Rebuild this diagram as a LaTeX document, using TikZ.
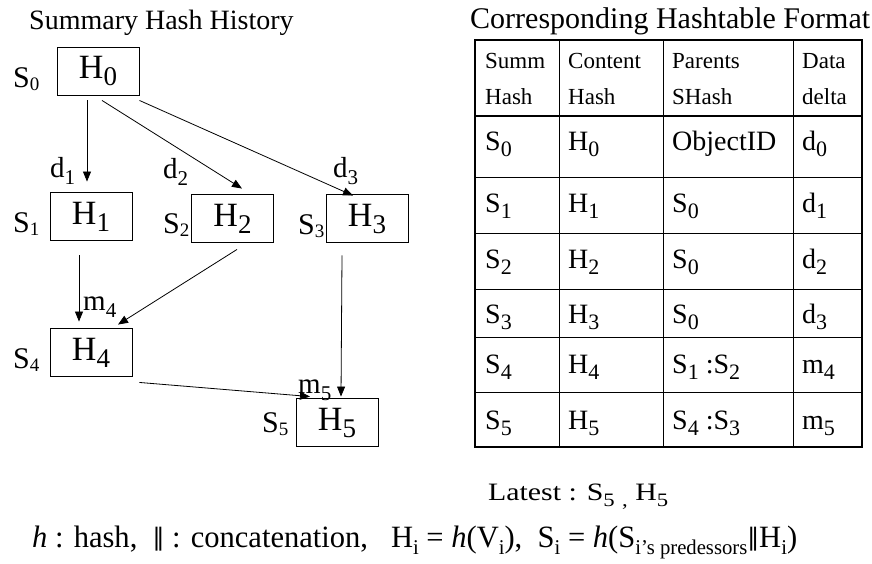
\documentclass[tikz,border=0pt]{standalone}
\usepackage{fontspec}
\setmainfont{Liberation Serif}
\newfontfamily\dvs{DejaVu Sans}
\usetikzlibrary{arrows.meta,calc}

% font size helper and lowered subscripts: text, drop, size
\newcommand\fs[1]{\rmfamily\fontsize{#1}{#1}\selectfont}
\newcommand\lsub[3]{\raisebox{-#2pt}{\fs{#3}#1}}
\newcommand\bx[2]{#1\lsub{#2}{7}{27}}   % inside hash boxes
\newcommand\lb[2]{#1\lsub{#2}{3}{19}}   % S labels beside boxes
\newcommand\dl[2]{#1\lsub{#2}{7}{21}}   % delta / merge labels
\newcommand\tc[2]{#1\lsub{#2}{6}{22}}   % table cells
\newcommand\dbar{{\dvs\fontsize{24}{24}\selectfont\raisebox{2pt}{‖}}}

\tikzset{
  hbox/.style={draw, line width=0.9pt, minimum width=82pt, minimum height=48pt,
    inner sep=0pt, font=\fs{34}},
  lab/.style={anchor=base west, inner sep=0pt},
  slab/.style={lab, font=\fs{30}},
  dlab/.style={lab, font=\fs{29}},
  arr/.style={line width=0.8pt, -{Triangle[length=10pt,width=8pt]}},
  cell/.style={lab, font=\fs{28}},
  head/.style={lab, font=\fs{23}},
  thin/.style={line width=0.9pt},
  thick/.style={line width=2.6pt},
}

\begin{document}
\begin{tikzpicture}[x=1pt,y=-1pt]
\useasboundingbox (0,0) rectangle (872,563);

% ---- summary hash history ----
\node[lab, font=\fs{28}] (t1) at (29,29) {Summary Hash History};

\node[hbox] (H0) at (98,71)    {\bx{H}{0}};
\node[hbox] (H1) at (91,216.5) {\bx{H}{1}};
\node[hbox] (H2) at (232.5,218.5) {\bx{H}{2}};
\node[hbox] (H3) at (367,218.5) {\bx{H}{3}};
\node[hbox] (H4) at (91,352.5) {\bx{H}{4}};
\node[hbox] (H5) at (337,422.5) {\bx{H}{5}};

\node[slab] (S0) at (13,87)  {\lb{S}{0}};
\node[slab] (S1) at (13,232) {\lb{S}{1}};
\node[slab] (S2) at (163,233) {\lb{S}{2}};
\node[slab] (S3) at (298,234) {\lb{S}{3}};
\node[slab] (S4) at (13,368) {\lb{S}{4}};
\node[slab] (S5) at (262,432) {\lb{S}{5}};

\node[dlab] (d1) at (50,177)  {\dl{d}{1}};
\node[dlab] (d2) at (163,178) {\dl{d}{2}};
\node[dlab] (d3) at (333,177) {\dl{d}{3}};
\node[dlab] (m4) at (83,310)  {\dl{m}{4}};
\node[dlab] (m5) at (298,393) {\dl{m}{5}};

\draw[arr] ($(H0.south)+(-11,5)$) -- ($(H1.north)+(-4,-10.5)$);
\draw[arr] ($(H0.south)+(4,5)$)   -- ($(H2.north)+(9.5,-5.5)$);
\draw[arr] ($(H0.south east)+(0,5)$) -- ($(H3.north)+(-14,1.5)$);
\draw[arr] ($(H1.south)+(-12,14.5)$) -- ($(H4.north)+(-12,-6.5)$);
\draw[arr] ($(H2.south)+(4.5,6.5)$) -- ($(H4.north)+(27,-3.5)$);
\draw[arr] ($(H3.south)+(-25,12.5)$) -- ($(H5.north)+(4,-1.5)$);
\draw[arr] ($(H4.south east)+(7,5.5)$) -- ($(H5.north)+(-27,-1.5)$);

% ---- corresponding hashtable ----
\node[lab, font=\fs{30}] (t2) at (470,28) {Corresponding Hashtable Format};

\foreach \yy in {177,233,289,337,392} \draw[thin] (475,\yy) -- (862,\yy);
\foreach \xx in {559,663,793} \draw[thin] (\xx,40) -- (\xx,447);
\draw[line width=2pt] (475,116) -- (862,116);
\draw[thick] (475,40) rectangle (862,447);

\node[head] (h1a) at (485,68)  {Summ};
\node[head] (h1b) at (485,104) {Hash};
\node[head] (h2a) at (568,68)  {Content};
\node[head] (h2b) at (568,104) {Hash};
\node[head] (h3a) at (672,68)  {Parents};
\node[head] (h3b) at (672,104) {SHash};
\node[head] (h4a) at (802,68)  {Data};
\node[head] (h4b) at (802,104) {delta};

\node[cell] (r0a) at (485,150) {\tc{S}{0}};
\node[cell] (r0b) at (568,150) {\tc{H}{0}};
\node[cell] (r0c) at (672,150) {ObjectID};
\node[cell] (r0d) at (802,150) {\tc{d}{0}};

\node[cell] (r1a) at (485,212) {\tc{S}{1}};
\node[cell] (r1b) at (568,212) {\tc{H}{1}};
\node[cell] (r1c) at (672,212) {\tc{S}{0}};
\node[cell] (r1d) at (802,212) {\tc{d}{1}};

\node[cell] (r2a) at (485,268) {\tc{S}{2}};
\node[cell] (r2b) at (568,268) {\tc{H}{2}};
\node[cell] (r2c) at (672,268) {\tc{S}{0}};
\node[cell] (r2d) at (802,268) {\tc{d}{2}};

\node[cell] (r3a) at (485,323) {\tc{S}{3}};
\node[cell] (r3b) at (568,323) {\tc{H}{3}};
\node[cell] (r3c) at (672,323) {\tc{S}{0}};
\node[cell] (r3d) at (802,323) {\tc{d}{3}};

\node[cell] (r4a) at (485,373) {\tc{S}{4}};
\node[cell] (r4b) at (568,373) {\tc{H}{4}};
\node[cell] (r4c) at (672,373) {\tc{S}{1} :\tc{S}{2}};
\node[cell] (r4d) at (802,373) {\tc{m}{4}};

\node[cell] (r5a) at (485,429) {\tc{S}{5}};
\node[cell] (r5b) at (568,429) {\tc{H}{5}};
\node[cell] (r5c) at (672,429) {\tc{S}{4} :\tc{S}{3}};
\node[cell] (r5d) at (802,429) {\tc{m}{5}};

% ---- footer ----
\node[lab, font=\fs{25}] (latest) at (488,500)
  {\resizebox{180pt}{\height}{Latest : S\lsub{5}{6}{19} \lsub{,}{6}{19} H\lsub{5}{6}{19}}};
\node[lab, font=\fs{31}] (defs) at (32,547)
  {\resizebox{765pt}{\height}{\textit{h} : hash, \ \dbar\ : concatenation, \ \
   H\lsub{i}{7}{21} = \textit{h}(V\lsub{i}{7}{21}), \
   S\lsub{i}{7}{21} = \textit{h}(S\lsub{i’s predessors}{7}{21}\dbar H\lsub{i}{7}{21})}};
\end{tikzpicture}
\end{document}
